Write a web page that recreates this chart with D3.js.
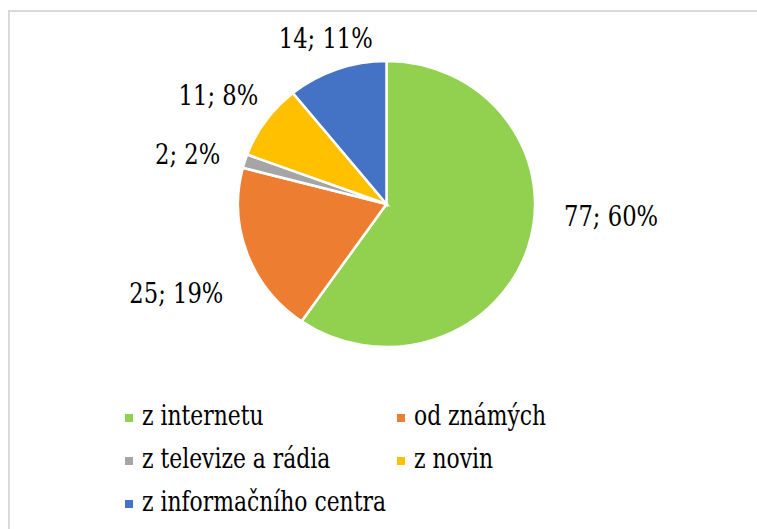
<!DOCTYPE html>
<html>
<head>
<meta charset="utf-8">
<script src="https://cdn.jsdelivr.net/npm/d3@7"></script>
<style>
  body { margin: 0; background: #fff; }
  svg { display: block; }
</style>
</head>
<body>
<div id="chart"></div>
<script>
// data
const categories = ["z internetu", "od známých", "z televize a rádia", "z novin", "z informačního centra"];
const counts = [77, 25, 2, 11, 14];
const percents = [60, 19, 2, 8, 11];
const colors = ["#92d050", "#ed7d31", "#a5a5a5", "#ffc000", "#4472c4"];

const width = 757, height = 529;
const cx = 386.5, cy = 204, r = 143, stretchX = 148.5 / 143;
const labelGap = 22;
// only DejaVu Serif is there, it is wider than Times so squeeze it a bit
const serif = "'DejaVu Serif', serif";
const squeeze = 0.84, legendSqueeze = 0.81;
// small hand nudges, excel "best fit" moves labels around a bit
const labelNudge = [[17, -40], [-6, 29], [-5, 3], [3, -6], [12, 0]];

const svg = d3.select("#chart").append("svg")
    .attr("width", width)
    .attr("height", height);

// chart area border (runs off the right/bottom edge)
svg.append("rect")
    .attr("x", 9).attr("y", 11)
    .attr("width", width + 20).attr("height", height + 20)
    .attr("fill", "#fff")
    .attr("stroke", "#d9d9d9")
    .attr("stroke-width", 2);

let data = categories.map((c, i) => ({ name: c, value: counts[i], pct: percents[i], color: colors[i], i: i }));

let pie = d3.pie().sort(null).value(d => d.value);
let arc = d3.arc().innerRadius(0).outerRadius(r);
let arcs = pie(data);

let g = svg.append("g")
    .attr("transform", `translate(${cx}, ${cy}) scale(${stretchX}, 1)`);

g.selectAll(".slice")
    .data(arcs)
    .enter()
    .append("path")
    .attr("class", "slice")
    .attr("d", arc)
    .attr("fill", d => d.data.color)
    .attr("stroke", "#fff")
    .attr("stroke-width", 2.5)
    .attr("vector-effect", "non-scaling-stroke");

// labels outside end
let labels = svg.selectAll(".lbl")
    .data(arcs)
    .enter()
    .append("text")
    .attr("class", "lbl")
    .style("font-family", serif)
    .attr("font-size", 27)
    .attr("fill", "#000")
    .attr("text-anchor", "middle")
    .attr("dominant-baseline", "central")
    .text(d => `${d.data.value}; ${d.data.pct}%`);

labels.each(function(d) {
    let a = (d.startAngle + d.endAngle) / 2;
    let w = this.getComputedTextLength() * squeeze;
    let h = 20;
    let px = cx + Math.sin(a) * (r * stretchX + labelGap) + Math.sin(a) * w / 2;
    let py = cy - Math.cos(a) * (r + labelGap) - Math.cos(a) * h / 2;
    let n = labelNudge[d.data.i];
    d3.select(this).attr("transform", `translate(${px + n[0]}, ${py + n[1]}) scale(${squeeze}, 1)`);
});

// legend, two columns
let legend = svg.selectAll(".legend")
    .data(data)
    .enter()
    .append("g")
    .attr("class", "legend")
    .attr("transform", (d, i) => `translate(${i % 2 === 0 ? 125 : 397}, ${418 + Math.floor(i / 2) * 43})`);

legend.append("rect")
    .attr("x", 0).attr("y", -4)
    .attr("width", 8).attr("height", 8)
    .attr("fill", d => d.color);

legend.append("text")
    .attr("transform", `translate(17, 7) scale(${legendSqueeze}, 1)`)
    .style("font-family", serif)
    .attr("font-size", 27)
    .attr("fill", "#000")
    .text(d => d.name);
</script>
</body>
</html>
